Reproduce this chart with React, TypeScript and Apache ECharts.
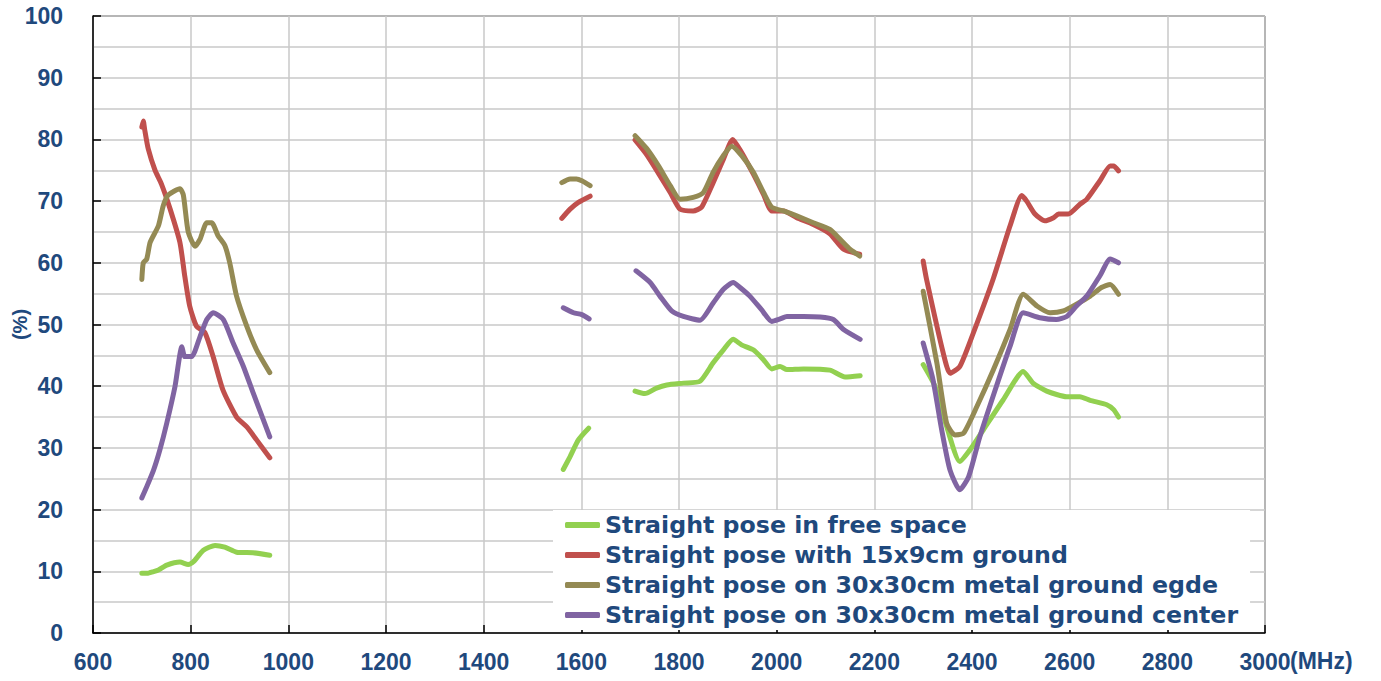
import React, { useEffect, useRef } from "react";
import * as echarts from "echarts";

type Pt = [number, number];

const seriesNames = [
  "Straight pose in free space",
  "Straight pose with 15x9cm ground",
  "Straight pose on 30x30cm metal ground egde",
  "Straight pose on 30x30cm metal ground center",
];
const seriesColors = ["#92D050", "#C0504D", "#948A54", "#8064A2"];

const xTicks = { min: 600, max: 3000, step: 200 };
const yTicks = { min: 0, max: 100, step: 10 };

const freeSpace: Pt[][] = [
  [[700, 9.7], [713, 9.7], [722, 9.9], [734, 10.2], [751, 11.0], [778, 11.5], [795, 11.1], [805, 11.5], [826, 13.4], [850, 14.2], [870, 13.9], [894, 13.1], [928, 13.0], [962, 12.6]],
  [[1563, 26.5], [1577, 28.6], [1594, 31.3], [1615, 33.2]],
  [[1710, 39.2], [1730, 38.8], [1754, 39.7], [1775, 40.2], [1809, 40.5], [1843, 40.8], [1870, 43.8], [1891, 45.9], [1911, 47.6], [1928, 46.7], [1952, 45.9], [1973, 44.3], [1990, 42.8], [2007, 43.2], [2021, 42.7], [2055, 42.8], [2109, 42.6], [2140, 41.5], [2171, 41.7]],
  [[2300, 43.5], [2324, 40.0], [2348, 33.5], [2375, 27.8], [2396, 29.7], [2423, 32.9], [2464, 37.8], [2505, 42.4], [2525, 40.5], [2553, 39.2], [2594, 38.3], [2621, 38.3], [2642, 37.7], [2676, 37.0], [2690, 36.2], [2700, 35.0]],
];

const ground15x9: Pt[][] = [
  [[700, 82.0], [703, 83.0], [706, 81.5], [713, 78.5], [727, 75.0], [740, 72.8], [758, 68.7], [778, 63.3], [788, 57.8], [798, 53.0], [812, 49.7], [829, 48.7], [846, 44.8], [866, 39.4], [894, 35.0], [915, 33.4], [935, 31.3], [962, 28.4]],
  [[1560, 67.2], [1577, 68.7], [1594, 69.8], [1618, 70.8]],
  [[1710, 79.9], [1734, 77.5], [1758, 74.5], [1782, 71.4], [1802, 68.7], [1829, 68.4], [1846, 69.0], [1870, 73.0], [1891, 76.8], [1910, 80.0], [1928, 77.9], [1952, 74.4], [1973, 71.1], [1990, 68.4], [2014, 68.4], [2041, 67.3], [2075, 66.2], [2109, 64.7], [2137, 62.2], [2170, 61.4]],
  [[2300, 60.3], [2307, 57.3], [2341, 45.4], [2355, 42.1], [2375, 43.2], [2403, 48.7], [2443, 57.3], [2478, 66.0], [2502, 70.9], [2512, 70.0], [2529, 67.9], [2549, 66.8], [2567, 67.3], [2577, 67.9], [2597, 67.9], [2621, 69.5], [2635, 70.3], [2662, 73.3], [2683, 75.7], [2690, 75.7], [2700, 74.9]],
];

const metalEdge: Pt[][] = [
  [[700, 57.3], [703, 60.0], [710, 60.6], [717, 63.3], [734, 66.0], [744, 69.3], [754, 71.0], [778, 72.0], [785, 71.0], [795, 65.0], [809, 62.7], [819, 63.8], [833, 66.5], [843, 66.5], [856, 64.4], [870, 62.8], [880, 60.0], [894, 54.6], [915, 49.7], [935, 45.9], [962, 42.2]],
  [[1560, 73.0], [1577, 73.6], [1590, 73.6], [1601, 73.3], [1618, 72.5]],
  [[1710, 80.6], [1734, 78.5], [1758, 75.7], [1782, 72.5], [1802, 70.3], [1829, 70.6], [1850, 71.4], [1870, 74.7], [1891, 77.4], [1908, 78.9], [1928, 77.4], [1952, 74.7], [1973, 71.4], [1990, 69.0], [2014, 68.4], [2041, 67.6], [2075, 66.5], [2109, 65.4], [2130, 63.8], [2150, 62.2], [2170, 61.1]],
  [[2300, 55.4], [2328, 43.8], [2348, 34.0], [2365, 32.1], [2383, 32.4], [2410, 36.7], [2444, 42.7], [2478, 49.2], [2505, 54.9], [2533, 53.0], [2560, 51.9], [2587, 52.2], [2614, 53.3], [2642, 54.6], [2665, 56.0], [2683, 56.5], [2700, 54.9]],
];

const metalCenter: Pt[][] = [
  [[700, 21.9], [710, 23.7], [724, 26.4], [737, 29.7], [751, 34.0], [768, 40.0], [782, 46.4], [788, 44.8], [802, 44.8], [819, 48.0], [833, 50.8], [846, 51.9], [867, 50.8], [887, 47.0], [908, 43.2], [928, 38.9], [962, 31.8]],
  [[1563, 52.7], [1584, 51.9], [1601, 51.6], [1616, 50.9]],
  [[1712, 58.7], [1741, 56.8], [1761, 54.6], [1785, 52.2], [1809, 51.3], [1843, 50.7], [1870, 53.5], [1891, 55.7], [1911, 56.8], [1925, 56.0], [1945, 54.6], [1969, 52.4], [1990, 50.5], [2007, 50.9], [2021, 51.3], [2055, 51.3], [2089, 51.2], [2116, 50.8], [2137, 49.2], [2171, 47.6]],
  [[2300, 47.0], [2320, 41.1], [2338, 32.9], [2355, 26.4], [2375, 23.2], [2393, 25.3], [2416, 31.8], [2450, 40.0], [2478, 46.5], [2505, 51.9], [2539, 51.1], [2573, 50.8], [2594, 51.3], [2614, 53.0], [2635, 54.6], [2662, 57.9], [2683, 60.6], [2700, 60.0]],
];

const allSeries = [freeSpace, ground15x9, metalEdge, metalCenter];

function joinSegments(segs: Pt[][]): (number | null)[][] {
  const out: (number | null)[][] = [];
  segs.forEach((seg, i) => {
    if (i > 0) {
      const prev = segs[i - 1];
      out.push([(prev[prev.length - 1][0] + seg[0][0]) / 2, null]);
    }
    seg.forEach((p) => out.push([p[0], p[1]]));
  });
  return out;
}

const labelColor = "#1F497D";
const axisFont = "'Liberation Sans', Arial, sans-serif";

export default function App() {
  const ref = useRef<HTMLDivElement>(null);
  useEffect(() => {
    if (!ref.current) return;
    const chart = echarts.init(ref.current, undefined, { renderer: "svg" });
    chart.setOption({
      animation: false,
      backgroundColor: "#ffffff",
      grid: {
        left: 93,
        right: 116,
        top: 16,
        bottom: 48,
        containLabel: false,
        outerBoundsMode: "none",
        show: true,
        borderColor: "#000",
        borderWidth: 1,
        backgroundColor: "transparent",
      },
      legend: {
        orient: "vertical",
        left: 553,
        top: 510,
        padding: [2, 12, 2, 12],
        backgroundColor: "#ffffff",
        itemWidth: 35,
        itemHeight: 6,
        itemGap: 4,
        icon: "roundRect",
        textStyle: {
          color: labelColor,
          fontWeight: "bold",
          fontFamily: "'DejaVu Sans', sans-serif",
          fontSize: 23.7,
          lineHeight: 26,
        },
        data: seriesNames,
        z: 10,
      },
      xAxis: {
        type: "value",
        min: xTicks.min,
        max: xTicks.max,
        interval: xTicks.step,
        name: "(MHz)",
        nameLocation: "end",
        nameGap: 25,
        nameMoveOverlap: false,
        nameTextStyle: {
          color: labelColor,
          fontWeight: "bold",
          fontFamily: axisFont,
          fontSize: 23,
          align: "left",
          verticalAlign: "top",
          padding: [16, 0, 0, 0],
        },
        axisLine: { show: true, onZero: false, lineStyle: { color: "#000", width: 1.5 } },
        axisTick: { show: true, inside: true, length: 8, lineStyle: { color: "#000", width: 1.5 } },
        axisLabel: {
          color: labelColor,
          fontWeight: "bold",
          fontFamily: axisFont,
          fontSize: 23,
          margin: 17,
          formatter: (v: number) => String(v),
        },
        splitLine: { show: true, lineStyle: { color: "#c8c8c8", width: 1.5 } },
      },
      yAxis: {
        type: "value",
        min: yTicks.min,
        max: yTicks.max,
        interval: yTicks.step,
        name: "(%)",
        nameLocation: "middle",
        nameRotate: 90,
        nameGap: 63,
        nameMoveOverlap: false,
        nameTextStyle: {
          color: labelColor,
          fontWeight: "bold",
          fontFamily: axisFont,
          fontSize: 20,
        },
        axisLine: { show: true, onZero: false, lineStyle: { color: "#000", width: 1.5 } },
        axisTick: { show: true, inside: true, length: 8, lineStyle: { color: "#000", width: 1.5 } },
        axisLabel: {
          color: labelColor,
          fontWeight: "bold",
          fontFamily: axisFont,
          fontSize: 23,
          margin: 30,
          formatter: (v: number) => String(v),
        },
        splitLine: { show: true, lineStyle: { color: "#c8c8c8", width: 1.5 } },
        minorTick: { show: false, splitNumber: 2 },
        minorSplitLine: { show: true, lineStyle: { color: "#c8c8c8", width: 1.5 } },
      },
      series: allSeries.map((segs, i) => ({
        name: seriesNames[i],
        type: "line",
        data: joinSegments(segs),
        showSymbol: false,
        symbol: "none",
        connectNulls: false,
        smooth: 0.2,
        color: seriesColors[i],
        lineStyle: { color: seriesColors[i], width: 5, cap: "round", join: "round" },
        z: 3,
      })),
    });
    return () => chart.dispose();
  }, []);
  return (
    <div
      ref={ref}
      style={{ position: "fixed", left: 0, top: 0, width: 1381, height: 681 }}
    />
  );
}
